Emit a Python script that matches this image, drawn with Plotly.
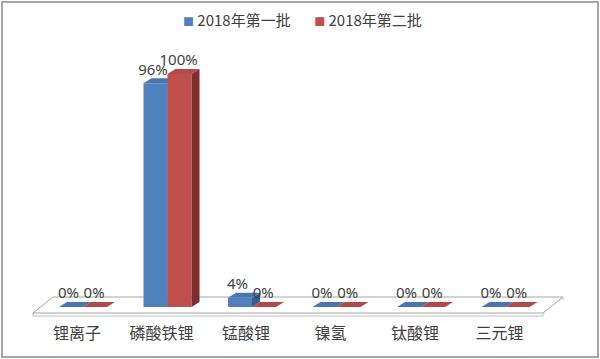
import plotly.graph_objects as go

categories = ["锂离子", "磷酸铁锂", "锰酸锂", "镍氢", "钛酸锂", "三元锂"]
series_names = ["2018年第一批", "2018年第二批"]
batch1 = [0.0, 0.96, 0.04, 0.0, 0.0, 0.0]
batch2 = [0.0, 1.00, 0.0, 0.0, 0.0, 0.0]
value_labels1 = ["0%", "96%", "4%", "0%", "0%", "0%"]
value_labels2 = ["0%", "100%", "0%", "0%", "0%", "0%"]

W, H = 600, 359
L, R, T, B = 24, 18, 27, 37
PW, PH = W - L - R, H - T - B
X0, X1 = -0.698, 5.905
Y0, Y1 = -0.0644, 1.2017

bar_w = 0.284     # width of one bar front face (category units)
dx, dy = 0.095, 0.0215   # 3D depth offset

colors = [
    dict(front="#4F81BD", top="#4776B2", side="#385D8A"),
    dict(front="#C0504D", top="#B24A47", side="#7E2F2D"),
]

fig = go.Figure()

# floor (3D base)
fx = [-0.592, 5.444, 5.680, -0.355, -0.592]
fy = [-0.0258, -0.0258, 0.0429, 0.0429, -0.0258]
fig.add_trace(go.Scatter(x=fx, y=fy, mode="lines", fill="toself", fillcolor="white",
                         line=dict(color="#A6A6A6", width=1), hoverinfo="skip", showlegend=False))
fig.add_trace(go.Scatter(x=[-0.592, -0.592, 5.444, 5.444, 5.680, 5.680], y=[-0.0258, -0.0388, -0.0388, -0.0258, 0.0429, 0.0300],
                         mode="lines", line=dict(color="#BFBFBF", width=1), hoverinfo="skip", showlegend=False))

all_vals = [batch1, batch2]
all_labels = [value_labels1, value_labels2]

for i in range(len(categories)):
    for s in range(2):
        v = all_vals[s][i]
        c = colors[s]
        xl = i + (s - 1) * bar_w
        xr = xl + bar_w
        if v > 0:
            # front face
            fig.add_trace(go.Scatter(x=[xl, xr, xr, xl, xl], y=[0, 0, v, v, 0], mode="lines",
                                     fill="toself", fillcolor=c["front"], line=dict(width=0, color=c["front"]),
                                     hoverinfo="skip", showlegend=False))
            # side face
            fig.add_trace(go.Scatter(x=[xr, xr + dx, xr + dx, xr, xr], y=[0, dy, v + dy, v, 0], mode="lines",
                                     fill="toself", fillcolor=c["side"], line=dict(width=0, color=c["side"]),
                                     hoverinfo="skip", showlegend=False))
        # top face
        fig.add_trace(go.Scatter(x=[xl, xr, xr + dx, xl + dx, xl], y=[v, v, v + dy, v + dy, v], mode="lines",
                                 fill="toself", fillcolor=c["top"], line=dict(width=0, color=c["top"]),
                                 hoverinfo="skip", showlegend=False))

# value labels
for s in range(2):
    xs = [i + (s - 1) * bar_w + bar_w / 2 - (0.03 if s == 0 else 0.01) for i in range(len(categories))]
    ys = [v + dy for v in all_vals[s]]
    fig.add_trace(go.Scatter(x=xs, y=ys, mode="text", text=all_labels[s], textposition="top center",
                             textfont=dict(size=15, color="#404040", family="Noto Sans, Noto Sans CJK SC"),
                             hoverinfo="skip", showlegend=False))

border_x0 = (2 - L) / PW
border_x1 = (598 - L) / PW
border_y1 = (T + PH - 2) / PH
border_y0 = (T + PH - 357) / PH

legend_text = (f"<span style='color:{colors[0]['front']};font-size:11px'>■</span> {series_names[0]}"
               f"       <span style='color:{colors[1]['front']};font-size:11px'>■</span> {series_names[1]}")

fig.update_layout(
    width=W, height=H,
    margin=dict(l=L, r=R, t=T, b=B, pad=0),
    paper_bgcolor="white", plot_bgcolor="white",
    font=dict(family="Noto Sans CJK SC", color="#404040"),
    xaxis=dict(range=[X0, X1], showgrid=False, zeroline=False, showline=False,
               tickvals=[i - 0.07 for i in range(len(categories))], ticktext=categories,
               tickfont=dict(size=16, color="#404040", family="Noto Sans CJK SC"), ticks=""),
    yaxis=dict(range=[Y0, Y1], showgrid=False, zeroline=False, showline=False, showticklabels=False),
    showlegend=False,
    annotations=[dict(xref="paper", yref="paper", x=(302 - L) / PW, y=(T + PH - 20) / PH,
                      xanchor="center", yanchor="middle", showarrow=False, text=legend_text,
                      font=dict(size=15, color="#404040", family="Noto Sans CJK SC"))],
    shapes=[dict(type="rect", xref="paper", yref="paper", x0=border_x0, x1=border_x1,
                 y0=border_y0, y1=border_y1, line=dict(color="#A6A6A6", width=2), layer="above")],
)

fig.write_html("out.html", config={"displayModeBar": False},
               post_script="document.body.style.margin='0';document.body.style.overflow='hidden';")
